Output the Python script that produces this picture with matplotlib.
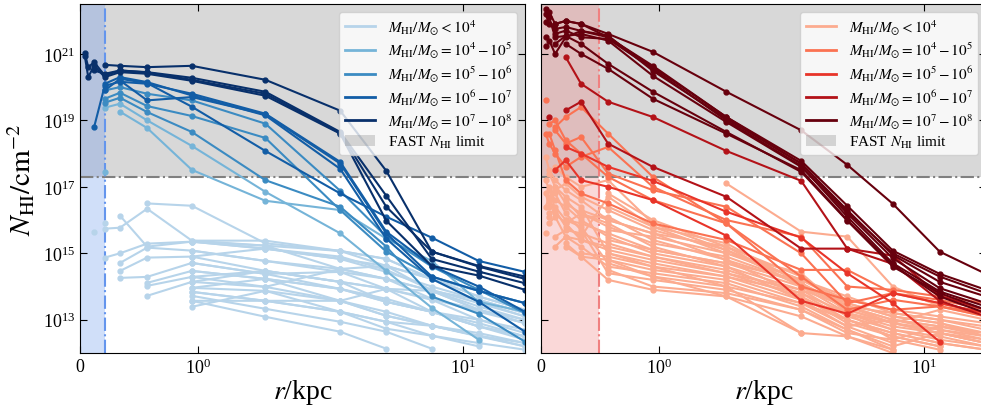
import numpy as np
import matplotlib
matplotlib.use('Agg')
import matplotlib.pyplot as plt
from matplotlib.lines import Line2D
from matplotlib.patches import Patch
from matplotlib.ticker import NullLocator

nan = np.nan

# radios de los anillos (kpc)
r_kpc = [0.04, 0.07, 0.12, 0.21, 0.34, 0.57, 0.95, 1.8, 3.45, 5.15, 7.65, 11.5, 17.2]

mass_labels = [r'$M_{\rm HI}/M_{\odot} < 10^4$',
               r'$M_{\rm HI}/M_{\odot} = 10^4 - 10^5$',
               r'$M_{\rm HI}/M_{\odot} = 10^5 - 10^6$',
               r'$M_{\rm HI}/M_{\odot} = 10^6 - 10^7$',
               r'$M_{\rm HI}/M_{\odot} = 10^7 - 10^8$']
fast_label = r'FAST $N_{\rm HI}$ limit'
fast_limit = 2e17
res_left = 0.21
res_right = 0.49

# log10(N_HI) panel izquierdo
left_lt4 = [
    [nan, nan, 15.65, nan, 16.13, 15.2, 15.35, 15.23, 14.53, 14.62, 14.23, 13.54, 13.1],
    [nan, nan, nan, 15.9, nan, 16.5, 16.43, 15.3, 15.07, 14.83, 14.23, 13.7, 13.3],
    [nan, nan, nan, 15.74, 15.77, 16.34, 15.38, 15.38, 15.07, 14.62, 13.87, 13.3, 12.9],
    [nan, nan, nan, 14.87, 15.0, 15.29, 15.35, 15.14, 14.9, 14.5, 13.9, 13.5, 13.1],
    [nan, nan, nan, nan, 14.71, 15.17, 15.08, 14.77, 14.44, 14.23, 13.63, 13.24, 12.9],
    [nan, nan, nan, nan, 14.47, 14.87, 14.9, 14.47, 14.14, 13.93, 13.6, 13.0, 12.6],
    [nan, nan, nan, nan, 14.26, 14.29, 14.71, 14.38, 13.93, 13.54, 13.24, 12.8, 12.5],
    [nan, nan, nan, nan, nan, 14.11, 14.47, 14.23, 13.57, 13.12, 12.82, 12.6, 12.3],
    [nan, nan, nan, nan, nan, 14.02, 14.29, 13.99, 13.57, 13.93, 13.24, 12.9, 12.5],
    [nan, nan, nan, nan, nan, 13.72, 14.14, 14.47, 14.14, 13.54, 13.24, 12.8, 12.4],
    [nan, nan, nan, nan, nan, nan, 13.96, 13.87, 13.24, 12.73, 12.52, 12.3, 12.1],
    [nan, nan, nan, nan, nan, nan, 13.84, 13.57, 13.24, 12.94, 12.52, 12.2, nan],
    [nan, nan, nan, nan, nan, nan, 13.72, 13.33, 12.94, 12.64, 12.13, nan, nan],
    [nan, nan, nan, nan, nan, nan, 13.57, 13.09, 12.64, 12.13, nan, nan, nan],
    [nan, nan, nan, nan, nan, nan, 13.39, 13.87, 13.57, 13.12, 12.82, 12.5, 12.2],
    [nan, nan, nan, nan, nan, nan, 15.08, 14.77, 14.53, 14.23, 13.87, 13.4, 13.0],
    [nan, nan, nan, nan, nan, nan, 14.9, 15.14, 14.83, 14.62, 14.23, 13.7, 13.3],
    [nan, nan, nan, nan, nan, nan, 14.71, 14.38, 14.44, 13.93, 13.63, 13.3, 12.9],
    [nan, nan, nan, nan, nan, nan, 14.47, 14.23, 13.93, 13.63, 13.24, 13.0, 12.7],
    [nan, nan, nan, nan, nan, nan, 14.29, 14.47, 14.14, 13.93, 13.87, 13.6, 13.2],
    [nan, nan, nan, nan, nan, nan, 14.14, 13.99, 14.53, 14.23, 13.87, 13.3, 13.0],
    [nan, nan, nan, nan, nan, nan, 13.96, 14.23, 13.93, 13.54, 13.24, 12.8, 12.5],
    [nan, nan, nan, nan, nan, nan, 13.57, 13.57, 13.57, 13.24, 12.82, 12.52, 12.2],
    [nan, nan, nan, nan, nan, nan, 15.38, 15.23, 15.07, 14.83, 14.23, 13.87, 13.5],
    [nan, nan, nan, nan, nan, nan, 15.35, 15.14, 14.83, 14.44, 14.0, 13.6, 13.2],
    [nan, nan, nan, nan, nan, nan, 13.84, 13.57, 13.24, 12.94, 12.82, 12.52, 12.3],
]
left_4_5 = [
    [nan, nan, nan, 19.38, 19.5, 19.0, 18.23, 16.85, 15.6, 14.47, 13.36, 12.4, nan],
    [nan, nan, nan, nan, 19.26, 18.77, 17.51, 16.58, 16.3, 15.44, 14.77, 13.54, 13.24],
    [nan, nan, nan, 17.45, nan, nan, nan, nan, nan, nan, nan, nan, nan],
]
left_5_6 = [
    [nan, nan, nan, 19.65, 19.83, 19.43, 19.13, 18.47, 16.3, 15.05, 14.3, 13.87, 13.5],
    [nan, nan, nan, 19.53, 19.68, 19.25, 18.65, 17.2, 16.4, 15.2, 13.7, 13.18, 12.34],
    [nan, nan, nan, 19.9, 20.0, 19.8, 19.6, 18.9, 16.88, 15.5, 14.6, 13.9, 13.2],
]
left_6_7 = [
    [nan, nan, 18.8, 20.04, 20.16, 20.1, 19.8, 19.2, 17.75, 15.65, 14.62, 14.0, 13.24],
    [nan, nan, nan, 20.1, 20.3, 20.15, 19.75, 19.15, 17.54, 15.44, 14.23, 13.54, 12.64],
    [nan, nan, nan, 19.9, 20.25, 20.12, 19.41, 18.08, 16.8, 16.1, 15.47, 14.77, 14.44],
    [nan, nan, nan, nan, 20.2, 19.6, 19.7, 19.18, 17.7, 15.6, 14.3, 13.87, 13.5],
]
left_7_8 = [
    [nan, nan, nan, 20.67, 20.64, 20.6, 20.64, 20.22, 19.29, 17.48, 15.05, 14.62, 14.3],
    [21.03, 20.6, 20.75, 20.35, 20.5, 20.45, 20.28, 19.86, 18.65, 16.73, 14.83, 14.45, 14.1],
    [20.95, 20.3, 20.65, 20.3, 20.45, 20.4, 20.19, 19.74, 18.6, 15.98, 14.62, 14.33, 13.9],
    [nan, nan, 20.5, 20.4, 20.5, 20.44, 20.22, 19.8, 18.62, 16.4, 15.05, 14.6, 14.23],
]

# log10(N_HI) panel derecho
right_lt4 = [
    [17.9, 17.5, 17.2, 16.9, 16.6, 16.0, 15.6, 15.2, 14.3, 13.4, 13.0, 12.8, 12.6],
    [nan, 16.6, 17.0, 16.5, 16.2, 15.8, 15.3, 14.9, 14.1, 13.3, 12.9, 12.6, 12.4],
    [nan, 16.1, 16.4, 16.0, 15.9, 15.6, 15.1, 14.7, 14.0, 13.2, 12.8, 12.6, 12.3],
    [17.2, 16.9, 16.6, 16.4, 16.0, 15.5, 15.0, 14.6, 13.9, 13.1, 12.7, 12.5, 12.2],
    [nan, nan, 15.5, 15.7, 15.6, 15.3, 14.9, 14.5, 13.8, 13.0, 12.6, 12.3, 12.1],
    [16.4, 16.7, 16.2, 15.9, 15.4, 15.1, 14.8, 14.4, 13.7, 12.9, 12.5, 12.2, nan],
    [nan, 17.4, 17.0, 16.7, 16.4, 15.0, 14.7, 14.3, 13.6, 13.2, 12.4, 12.1, nan],
    [15.6, nan, nan, 15.3, 14.9, 14.8, 14.5, 14.2, 13.5, 12.8, 12.3, nan, nan],
    [nan, 15.9, 16.1, 15.5, 15.2, 14.6, 14.4, 14.1, 13.4, 12.7, 12.2, 12.6, 12.3],
    [nan, nan, 16.8, 16.2, 15.7, 14.4, 14.2, 13.9, 13.3, 12.6, 12.4, 12.8, 12.5],
    [nan, nan, nan, 15.2, 14.9, 14.2, 13.9, 13.7, 12.6, 12.5, 12.1, nan, nan],
    [nan, 17.0, 16.3, 15.8, 15.5, 16.7, 15.8, 15.0, 14.2, 13.5, 13.1, 12.9, 12.6],
    [nan, nan, 17.6, 17.3, 17.0, 17.2, 15.9, 15.1, 14.0, 13.4, 13.2, 13.0, 12.8],
    [16.8, 16.4, 16.9, 17.1, 16.7, 16.3, 15.7, 15.1, 14.2, 13.6, 13.3, 13.1, 12.9],
    [nan, nan, nan, 16.6, 16.1, 16.1, 15.4, 14.8, 14.1, 13.3, 12.9, 13.3, 13.0],
    [nan, 16.2, nan, 15.9, 16.2, 15.9, 15.2, 14.6, 13.6, 12.8, 13.0, 12.7, 12.5],
    [nan, nan, 15.2, 15.5, 15.4, 15.2, 14.9, 14.4, 13.9, 13.4, 12.9, 12.7, 12.4],
    [nan, nan, nan, nan, 15.0, 14.9, 14.6, 14.3, 13.8, 13.2, 12.7, 12.4, 12.2],
    [nan, nan, nan, 16.0, 15.8, 14.7, 14.3, 14.0, 13.5, 13.0, 12.5, 12.2, nan],
    [nan, nan, nan, nan, nan, 14.5, 14.0, 13.8, 13.3, 12.7, 12.1, nan, nan],
    [nan, nan, nan, nan, nan, 16.4, 15.8, 15.3, 14.1, 13.4, 13.0, 12.8, 12.6],
    [nan, nan, nan, nan, nan, 16.8, 16.0, 15.2, 14.0, 13.5, 13.1, 12.9, 12.5],
    [nan, nan, nan, nan, nan, 15.7, 15.5, 15.0, 14.4, 13.2, 12.9, 12.6, 12.3],
    [nan, nan, nan, nan, nan, 15.4, 15.1, 14.7, 14.2, 13.7, 13.2, 13.0, 12.7],
    [nan, nan, nan, nan, nan, 15.0, 14.6, 14.0, 12.6, nan, nan, nan, nan],
    [nan, nan, nan, nan, nan, nan, nan, 17.1, 15.65, 15.5, 14.0, 13.4, 13.1],
    [nan, nan, nan, nan, nan, 14.8, 14.3, 13.7, 13.1, 12.5, 12.0, nan, nan],
    [nan, nan, nan, nan, 16.3, 16.0, 15.6, 14.8, 13.7, 13.0, 12.6, 12.3, 12.1],
]
right_4_5 = [
    [19.6, nan, 18.7, 18.3, 18.5, 17.4, 16.9, 16.4, 15.0, 13.5, 13.8, 13.6, 13.3],
    [nan, 18.9, 19.0, 18.4, 18.0, 17.3, 16.6, 15.9, 14.0, 13.6, 13.3, 13.4, 13.2],
    [18.6, 18.3, 18.0, 17.6, 17.9, 18.2, 17.0, 16.0, 15.5, 14.0, 13.9, 13.7, 13.5],
    [nan, 18.6, 18.1, 17.2, 16.8, 16.5, 15.9, 15.4, 14.5, 14.5, 13.8, 13.5, 13.2],
    [nan, nan, 18.8, 19.1, 19.4, 18.6, 17.3, 15.9, 14.3, 13.3, 13.6, 13.4, 13.1],
]
right_5_6 = [
    [nan, nan, nan, 18.2, 18.0, 17.6, 17.18, 16.25, 15.47, 14.4, 13.5, 12.34, nan],
    [nan, nan, 17.5, 17.8, 17.2, 17.0, 16.6, 15.53, 13.57, 13.18, 13.8, 13.5, 13.2],
]
right_6_7 = [
    [nan, nan, nan, 20.9, 20.1, 19.56, 19.1, 18.08, 17.18, 15.14, 14.93, 13.72, 13.3],
    [nan, 19.1, nan, 19.3, 19.56, 18.3, 17.6, 16.7, 15.14, 15.14, 14.68, 13.57, 13.1],
]
right_7_8 = [
    [22.35, 22.26, 21.9, 21.99, 21.9, 21.6, 21.06, 19.86, 18.7, 17.66, 16.49, 15.05, 14.38],
    [21.96, nan, 21.9, 21.99, 21.9, 21.5, 20.6, 19.1, 17.78, 16.43, 15.08, 14.38, 13.9],
    [22.2, 21.9, 21.75, 21.81, 21.69, 21.55, 20.49, 19.05, 17.7, 16.3, 14.95, 14.14, 13.7],
    [nan, 22.1, 21.5, 21.54, 21.6, 21.4, 20.34, 18.95, 17.6, 16.2, 14.85, 13.95, 13.5],
    [21.5, nan, 21.6, 21.7, 21.5, 21.45, 20.55, 19.0, 17.63, 16.1, 14.7, 13.85, 13.4],
    [nan, nan, 21.3, 21.54, 21.3, 20.7, 19.86, 18.65, 17.45, 15.98, 14.6, 13.8, 13.3],
    [21.24, nan, nan, 21.3, 21.0, 20.55, 19.65, 18.6, 17.5, 16.0, 14.65, 13.7, 13.2],
    [nan, 21.4, 21.0, 21.5, 21.69, 21.5, 20.64, 19.1, 17.7, 16.25, 15.0, 14.3, 13.8],
]

plt.rcParams['font.family'] = 'serif'
plt.rcParams['font.serif'] = ['Liberation Serif', 'DejaVu Serif']
plt.rcParams['mathtext.fontset'] = 'stix'


def panel(ax, grupos, cmap, res, res_color):
    colores = cmap(np.linspace(0.3, 1.0, 5))
    ax.axhspan(fast_limit, 1e23, color='gray', alpha=0.3, lw=0)
    ax.axvspan(0, res, color=res_color, alpha=0.3, lw=0)
    ax.axhline(fast_limit, color='gray', ls='-.', lw=1.5)
    ax.axvline(res, color=res_color, ls='-.', lw=1.5)
    for perfiles, c in zip(grupos, colores):
        for p in perfiles:
            ax.plot(r_kpc, 10 ** np.array(p), '-o', color=c, lw=1.5, ms=3.5)

    ax.set_xscale('symlog', linthresh=1, linscale=0.4)
    ax.set_yscale('log')
    ax.set_xlim(0, r_kpc[-1])
    ax.set_ylim(1e12, 10 ** 22.5)
    ax.set_xticks([0, 1, 10])
    ax.set_yticks([1e13, 1e15, 1e17, 1e19, 1e21])
    ax.xaxis.set_minor_locator(NullLocator())
    ax.yaxis.set_minor_locator(NullLocator())
    ax.tick_params(direction='in', top=True, right=True, length=5, labelsize=13)
    ax.set_xlabel(r'$r$/kpc', fontsize=20, labelpad=0)

    handles = [Line2D([], [], color=c, lw=2) for c in colores]
    handles.append(Patch(color='gray', alpha=0.3, lw=0))
    ax.legend(handles, mass_labels + [fast_label], loc='upper right', fontsize=11,
              labelspacing=0.2, handlelength=2.0, borderpad=0.35)


fig = plt.figure(figsize=(9.81, 4.10), dpi=100)
ax1 = fig.add_axes([80 / 981, 56 / 410, 445 / 981, 349 / 410])
ax2 = fig.add_axes([541 / 981, 56 / 410, 445 / 981, 349 / 410])

panel(ax1, [left_lt4, left_4_5, left_5_6, left_6_7, left_7_8], plt.cm.Blues, res_left, 'cornflowerblue')
panel(ax2, [right_lt4, right_4_5, right_5_6, right_6_7, right_7_8], plt.cm.Reds, res_right, 'lightcoral')

ax1.set_ylabel(r'$N_{\rm HI}/{\rm cm}^{-2}$', fontsize=21)
ax2.tick_params(labelleft=False)

fig.savefig('out.png', dpi=100)
